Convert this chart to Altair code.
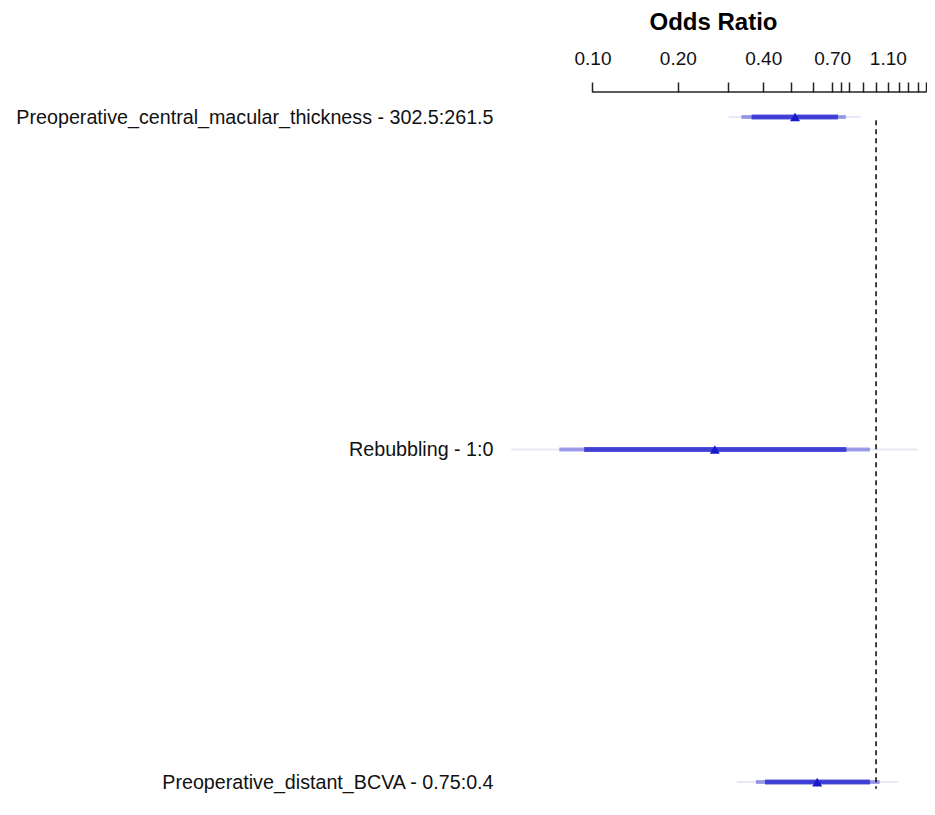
import altair as alt
import pandas as pd

# ---- data ----
labels = [
    "Preoperative_central_macular_thickness - 302.5:261.5",
    "Rebubbling - 1:0",
    "Preoperative_distant_BCVA - 0.75:0.4",
]
row_index = [0, 1, 2]
odds_ratio = [0.518, 0.270, 0.620]
lo99 = [0.302, 0.0517, 0.323]
hi99 = [0.883, 1.404, 1.195]
lo95 = [0.335, 0.0764, 0.377]
hi95 = [0.782, 0.951, 1.030]
lo90 = [0.364, 0.0935, 0.406]
hi90 = [0.734, 0.786, 0.951]

tick_values = [0.1, 0.2, 0.3, 0.4, 0.5, 0.6, 0.7, 0.75, 0.8, 0.9, 1.0, 1.1, 1.2, 1.3, 1.4, 1.5]
labelled_ticks = [0.1, 0.2, 0.4, 0.7, 1.1]
x_domain = [0.0472, 1.5]
y_domain = [-0.0752, 2.069]
ref_value = 1.0
ref_span = [0.01, 2.02]

df = pd.DataFrame({
    "label": labels, "idx": row_index, "or": odds_ratio,
    "lo99": lo99, "hi99": hi99, "lo95": lo95, "hi95": hi95,
    "lo90": lo90, "hi90": hi90,
})

FONT = "Liberation Sans"
BLUE = "#1919cc"

label_expr = " : ".join(
    f"datum.value == {i} ? '{lab}'" for i, lab in zip(row_index, labels)
) + " : ''"
tick_expr = "(" + " || ".join(
    f"abs(datum.value - {v}) < 1e-6" for v in labelled_ticks
) + ") ? format(datum.value, '.2f') : ''"

xscale = alt.Scale(type="log", domain=x_domain, nice=False)
yscale = alt.Scale(domain=y_domain, reverse=True, nice=False, zero=False)

xaxis = alt.Axis(
    orient="top", values=tick_values, labelExpr=tick_expr, labelOverlap=False,
    domain=False, grid=False, ticks=True, tickSize=10, tickWidth=1.5,
    tickColor="#222222", labelFont=FONT, labelFontSize=19, labelColor="#111111",
    labelPadding=14, labelFlush=False, title="Odds Ratio", titleFont=FONT,
    titleFontSize=24, titleFontWeight="bold", titleColor="#000000", titlePadding=15,
)
yaxis = alt.Axis(
    values=row_index, labelExpr=label_expr, domain=False, ticks=False, grid=False,
    labelFont=FONT, labelFontSize=19.7, labelColor="#111111", labelPadding=7,
    labelLimit=0, title=None,
)


def X(field):
    return alt.X(field, scale=xscale, axis=xaxis, title="Odds Ratio")


def Y(field):
    return alt.Y(field, scale=yscale, axis=yaxis, title=None)


base = alt.Chart(df)

light = base.mark_rule(strokeWidth=2, color=BLUE, opacity=0.1).encode(
    x=X("lo99:Q"), x2="hi99:Q", y=Y("idx:Q"),
)
medium = base.mark_rule(strokeWidth=4, color=BLUE, opacity=0.4).encode(
    x=X("lo95:Q"), x2="hi95:Q", y=Y("idx:Q"),
)
dark = base.mark_rule(strokeWidth=5, color=BLUE, opacity=0.7).encode(
    x=X("lo90:Q"), x2="hi90:Q", y=Y("idx:Q"),
)
points = base.mark_point(shape="triangle-up", filled=True, size=100, color=BLUE, opacity=1).encode(
    x=X("or:Q"), y=Y("idx:Q"),
)

ref_df = pd.DataFrame({"x": [ref_value], "y1": [ref_span[0]], "y2": [ref_span[1]]})
ref = alt.Chart(ref_df).mark_rule(color="#000000", strokeWidth=1.5, strokeDash=[5, 4]).encode(
    x=X("x:Q"), y=Y("y1:Q"), y2="y2:Q",
)

axis_df = pd.DataFrame({"x1": [tick_values[0]], "x2": [tick_values[-1]]})
axis_line = alt.Chart(axis_df).mark_rule(color="#222222", strokeWidth=1.5).encode(
    x=X("x1:Q"), x2="x2:Q", y=alt.value(0),
)

chart = alt.layer(light, medium, dark, ref, points, axis_line).properties(
    width=426, height=713,
    padding={"left": 492, "top": 84, "right": 1, "bottom": 2},
    autosize=alt.AutoSizeParams(type="none"),
    background="white",
).configure_view(stroke=None)

chart.save("out.html", embed_options={"renderer": "svg", "actions": False})
